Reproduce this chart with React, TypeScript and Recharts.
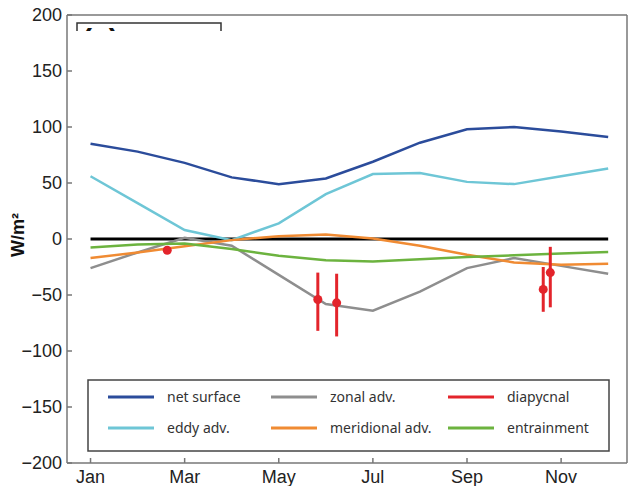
import {
  ComposedChart,
  Line,
  Scatter,
  ErrorBar,
  XAxis,
  YAxis,
  ReferenceLine,
} from 'recharts'

// monthly heat budget terms (W/m²), one value per month Jan..Dec
const months = [1, 2, 3, 4, 5, 6, 7, 8, 9, 10, 11, 12]
const netSurface = [85, 78, 68, 55, 49, 54, 69, 86, 98, 100, 96, 91]
const eddyAdv = [56, 32, 8, -1, 14, 40, 58, 59, 51, 49, 56, 63]
const zonalAdv = [-26, -12, 1, -6, -32, -58, -64, -47, -26, -17, -24, -31]
const meridionalAdv = [-17, -12, -6.5, -1, 2.5, 4, 0.5, -6, -14, -21, -23, -22]
const entrainment = [-7.5, -5, -4, -9, -15, -19, -20, -18, -16, -14.5, -13, -11.6]

// diapycnal estimates with [lower, upper] uncertainty
const diapycnalMonth = [2.63, 5.83, 6.23, 10.62, 10.77]
const diapycnalValue = [-10, -54, -57, -45, -30]
const diapycnalErr = [[0, 0], [28, 24], [30, 26], [20, 20], [31, 23]]

const tickMonths = [1, 3, 5, 7, 9, 11]
const tickLabels = ['Jan', 'Mar', 'May', 'Jul', 'Sep', 'Nov']
const yTicks = [-200, -150, -100, -50, 0, 50, 100, 150, 200]

const W = 628
const H = 486

const series = [
  { key: 'net', name: 'net surface', color: '#2b4c9b' },
  { key: 'eddy', name: 'eddy adv.', color: '#6ec6d6' },
  { key: 'zonal', name: 'zonal adv.', color: '#8e8e8e' },
  { key: 'merid', name: 'meridional adv.', color: '#f08b33' },
  { key: 'dia', name: 'diapycnal', color: '#e3242b' },
  { key: 'entr', name: 'entrainment', color: '#6cb33f' },
]
const colorOf = (k: string) => series.find((s) => s.key === k)!.color

const axisColor = '#777'
const fontFamily = '"Liberation Sans", Arial, sans-serif'

function LegendEntry({ x, y, name, color }: { x: number; y: number; name: string; color: string }) {
  return (
    <g>
      <line x1={x} x2={x + 46} y1={y} y2={y} stroke={color} strokeWidth={3} />
      <text x={x + 59} y={y} dy="0.35em" fontSize={14} fill="#333" fontFamily='"Noto Sans", sans-serif'>
        {name}
      </text>
    </g>
  )
}

export default function App() {
  const data = months.map((m, i) => ({
    month: m,
    net: netSurface[i],
    eddy: eddyAdv[i],
    zonal: zonalAdv[i],
    merid: meridionalAdv[i],
    entr: entrainment[i],
  }))
  const dia = diapycnalMonth.map((m, i) => ({
    month: m,
    value: diapycnalValue[i],
    err: diapycnalErr[i],
  }))

  // legend grid: column x, row y
  const legendCols = [108, 271, 448]
  const legendRows = [397, 428]
  const legendOrder = [
    ['net', 'zonal', 'dia'],
    ['eddy', 'merid', 'entr'],
  ]

  return (
    <div style={{ position: 'absolute', left: 0, top: 0, width: W, height: H, background: '#fff', fontFamily }}>
      <ComposedChart width={W} height={H} data={data} margin={{ top: 14, right: 0, bottom: 0, left: 0 }}>
        <XAxis
          dataKey="month"
          type="number"
          domain={[0.5, 12.4]}
          allowDataOverflow
          ticks={tickMonths}
          interval={0}
          tickFormatter={(v: number) => tickLabels[tickMonths.indexOf(v)] ?? ''}
          height={23}
          tickSize={-5}
          tickMargin={12}
          stroke={axisColor}
          strokeWidth={1.5}
          tick={{ fill: '#222', fontSize: 18, fontFamily }}
        />
        <XAxis
          xAxisId="top"
          orientation="top"
          dataKey="month"
          type="number"
          domain={[0.5, 12.4]}
          allowDataOverflow
          ticks={tickMonths}
          interval={0}
          height={1}
          tick={false}
          tickSize={-5}
          stroke={axisColor}
          strokeWidth={1.5}
        />
        <YAxis
          type="number"
          domain={[-200, 200]}
          ticks={yTicks}
          interval={0}
          width={67}
          tickSize={-5}
          tickMargin={10}
          tickFormatter={(v: number) => String(v).replace('-', '\u2212')}
          stroke={axisColor}
          strokeWidth={1.5}
          tick={{ fill: '#222', fontSize: 18, fontFamily }}
        />
        <YAxis
          yAxisId="right"
          orientation="right"
          type="number"
          domain={[-200, 200]}
          ticks={yTicks}
          interval={0}
          width={1}
          tick={false}
          tickSize={-5}
          stroke={axisColor}
          strokeWidth={1.5}
        />
        <ReferenceLine
          segment={[{ x: 1, y: 0 }, { x: 12, y: 0 }]}
          stroke="#000"
          strokeWidth={3}
        />
        <Line type="linear" dataKey="net" stroke={colorOf('net')} strokeWidth={2.5} dot={false} isAnimationActive={false} />
        <Line type="linear" dataKey="eddy" stroke={colorOf('eddy')} strokeWidth={2.5} dot={false} isAnimationActive={false} />
        <Line type="linear" dataKey="zonal" stroke={colorOf('zonal')} strokeWidth={2.5} dot={false} isAnimationActive={false} />
        <Line type="linear" dataKey="merid" stroke={colorOf('merid')} strokeWidth={2.5} dot={false} isAnimationActive={false} />
        <Line type="linear" dataKey="entr" stroke={colorOf('entr')} strokeWidth={2.5} dot={false} isAnimationActive={false} />
        <Scatter data={dia} dataKey="value" fill={colorOf('dia')} isAnimationActive={false}>
          <ErrorBar dataKey="err" direction="y" width={0} stroke={colorOf('dia')} strokeWidth={3} isAnimationActive={false} />
        </Scatter>
      </ComposedChart>

      <svg
        width={W}
        height={H}
        style={{ position: 'absolute', left: 0, top: 0, pointerEvents: 'none' }}
      >
        <defs>
          <clipPath id="panel-tag">
            <rect x={77} y={23} width={144} height={8} />
          </clipPath>
        </defs>
        {/* panel tag, mostly hidden */}
        <path d="M77,31 L77,23 L221,23 L221,31" fill="none" stroke="#333" strokeWidth={1.5} />
        <text x={82} y={50} fontSize={30} fontWeight="bold" fill="#111" clipPath="url(#panel-tag)" fontFamily={fontFamily}>
          (a)
        </text>

        <text
          transform="translate(24,235) rotate(-90)"
          textAnchor="middle"
          fontSize={18}
          fontWeight="bold"
          fill="#111"
          fontFamily={fontFamily}
        >
          W/m²
        </text>

        <rect x={88} y={380} width={521} height={71} fill="#fff" stroke="#444" strokeWidth={1.5} />
        {legendOrder.map((row, r) =>
          row.map((k, c) => {
            const s = series.find((e) => e.key === k)!
            return <LegendEntry key={k} x={legendCols[c]} y={legendRows[r]} name={s.name} color={s.color} />
          }),
        )}
      </svg>
    </div>
  )
}
